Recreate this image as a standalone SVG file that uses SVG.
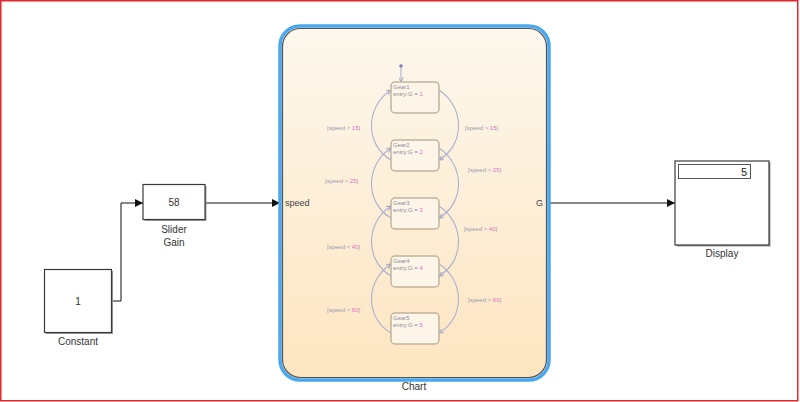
<svg xmlns="http://www.w3.org/2000/svg" width="800" height="402" viewBox="0 0 800 402">
<style>
.blk{fill:#fff;stroke:#3a3a3a;stroke-width:1.2}
.shd{fill:#9a9a9a}
.lbl{font-family:"Liberation Sans",Arial,sans-serif;font-size:10px;fill:#333;text-anchor:middle}
.wire{fill:none;stroke:#111;stroke-width:1}
.gear{fill:#fdf6e8;stroke:#bfb49c;stroke-width:1.5}
.gt{font-family:"Liberation Sans",Arial,sans-serif;font-size:6px;fill:#8c8c9c}
.num{fill:#e070c8}
.tr{fill:none;stroke:#adb0d4;stroke-width:1.1}
.cond{font-family:"Liberation Sans",Arial,sans-serif;font-size:6px;fill:#9a9ab4}
</style>
<defs>
<marker id="arr" viewBox="0 0 10 10" refX="10" refY="5" markerWidth="9" markerHeight="8" markerUnits="userSpaceOnUse" orient="auto">
<path d="M0,0 L10,5 L0,10 z" fill="#111"/>
</marker>
<marker id="tarr" viewBox="0 0 10 10" refX="10" refY="5" markerWidth="5" markerHeight="5" markerUnits="userSpaceOnUse" orient="auto">
<path d="M0,0 L10,5 L0,10" fill="none" stroke="#8f93c4" stroke-width="1.5"/>
</marker>
<linearGradient id="cg" x1="0" y1="0" x2="0" y2="1">
<stop offset="0" stop-color="#fdf8ee"/>
<stop offset="1" stop-color="#fde5c0"/>
</linearGradient>
</defs>
<rect x="0" y="0" width="800" height="402" fill="#fff"/>
<rect x="0.75" y="0.75" width="797" height="400" fill="none" stroke="#e4272c" stroke-width="1.5"/>

<g id="connectors">
<polyline class="wire" points="112,301 121,301 121,203 143,203" marker-end="url(#arr)"/>
<line class="wire" x1="206" y1="203" x2="280" y2="203" marker-end="url(#arr)"/>
<line class="wire" x1="549" y1="203" x2="675" y2="203" marker-end="url(#arr)"/>
</g>

<g id="constant">
<rect class="shd" x="46" y="271" width="67" height="63"/>
<rect class="blk" x="44.5" y="269.5" width="67" height="63"/>
<text class="lbl" x="78" y="305">1</text>
<text class="lbl" x="78" y="345">Constant</text>
</g>

<g id="slider-gain">
<rect class="shd" x="144.5" y="186" width="62" height="35"/>
<rect class="blk" x="143" y="184.5" width="62" height="35"/>
<text class="lbl" x="174" y="206">58</text>
<text class="lbl" x="174" y="233">Slider</text>
<text class="lbl" x="174" y="246">Gain</text>
</g>

<g id="chart">
<rect x="280" y="26" width="269" height="354" rx="20" fill="none" stroke="#4aa8ee" stroke-width="3.5"/>
<rect x="282.5" y="28.5" width="264" height="349" rx="18" fill="url(#cg)" stroke="#555" stroke-width="1.2"/>
<text x="285" y="206" font-family="Liberation Sans,Arial,sans-serif" font-size="9" fill="#444">speed</text>
<text x="536" y="206" font-family="Liberation Sans,Arial,sans-serif" font-size="9" fill="#444">G</text>
<text class="lbl" x="414" y="390">Chart</text>
</g>

<g id="default-transition">
<circle cx="401" cy="66" r="1.8" fill="#7b80c0"/>
<line class="tr" x1="401" y1="67" x2="401" y2="82" marker-end="url(#tarr)"/>
</g>

<g id="transitions">
<path class="tr" d="M391,160 C365,145 365,107 391,90" marker-end="url(#tarr)"/>
<path class="tr" d="M391,218 C365,203 365,165 391,148" marker-end="url(#tarr)"/>
<path class="tr" d="M391,276 C365,261 365,223 391,206" marker-end="url(#tarr)"/>
<path class="tr" d="M391,333 C365,318 365,281 391,264" marker-end="url(#tarr)"/>
<path class="tr" d="M439,90 C465,107 465,145 439,160" marker-end="url(#tarr)"/>
<path class="tr" d="M439,148 C465,165 465,203 439,218" marker-end="url(#tarr)"/>
<path class="tr" d="M439,206 C465,223 465,261 439,276" marker-end="url(#tarr)"/>
<path class="tr" d="M439,264 C465,281 465,318 439,333" marker-end="url(#tarr)"/>
<text class="cond" x="327" y="130">[speed &lt; <tspan class="num">15</tspan>]</text>
<text class="cond" x="325" y="183">[speed &lt; <tspan class="num">25</tspan>]</text>
<text class="cond" x="327" y="249">[speed &lt; <tspan class="num">40</tspan>]</text>
<text class="cond" x="327" y="312">[speed &lt; <tspan class="num">60</tspan>]</text>
<text class="cond" x="465" y="130">[speed &gt; <tspan class="num">15</tspan>]</text>
<text class="cond" x="468" y="172">[speed &gt; <tspan class="num">25</tspan>]</text>
<text class="cond" x="464" y="231">[speed &gt; <tspan class="num">40</tspan>]</text>
<text class="cond" x="468" y="302">[speed &gt; <tspan class="num">60</tspan>]</text>
</g>

<g id="gear1">
<rect class="gear" x="391" y="82" width="48" height="31" rx="4"/>
<text class="gt" x="393" y="89">Gear1</text>
<text class="gt" x="393" y="96">entry:G = <tspan class="num">1</tspan></text>
</g>
<g id="gear2">
<rect class="gear" x="391" y="140" width="48" height="31" rx="4"/>
<text class="gt" x="393" y="147">Gear2</text>
<text class="gt" x="393" y="154">entry:G = <tspan class="num">2</tspan></text>
</g>
<g id="gear3">
<rect class="gear" x="391" y="198" width="48" height="31" rx="4"/>
<text class="gt" x="393" y="205">Gear3</text>
<text class="gt" x="393" y="212">entry:G = <tspan class="num">3</tspan></text>
</g>
<g id="gear4">
<rect class="gear" x="391" y="256" width="48" height="31" rx="4"/>
<text class="gt" x="393" y="263">Gear4</text>
<text class="gt" x="393" y="270">entry:G = <tspan class="num">4</tspan></text>
</g>
<g id="gear5">
<rect class="gear" x="391" y="313" width="48" height="31" rx="4"/>
<text class="gt" x="393" y="320">Gear5</text>
<text class="gt" x="393" y="327">entry:G = <tspan class="num">5</tspan></text>
</g>

<g id="display">
<rect class="shd" x="676.5" y="162.5" width="94" height="84"/>
<rect class="blk" x="675" y="161" width="94" height="84"/>
<rect x="678.5" y="164.5" width="72" height="14" fill="#fff" stroke="#555" stroke-width="1"/>
<text x="747" y="176" font-family="Liberation Sans,Arial,sans-serif" font-size="11" fill="#222" text-anchor="end">5</text>
<text class="lbl" x="722" y="257">Display</text>
</g>
</svg>
